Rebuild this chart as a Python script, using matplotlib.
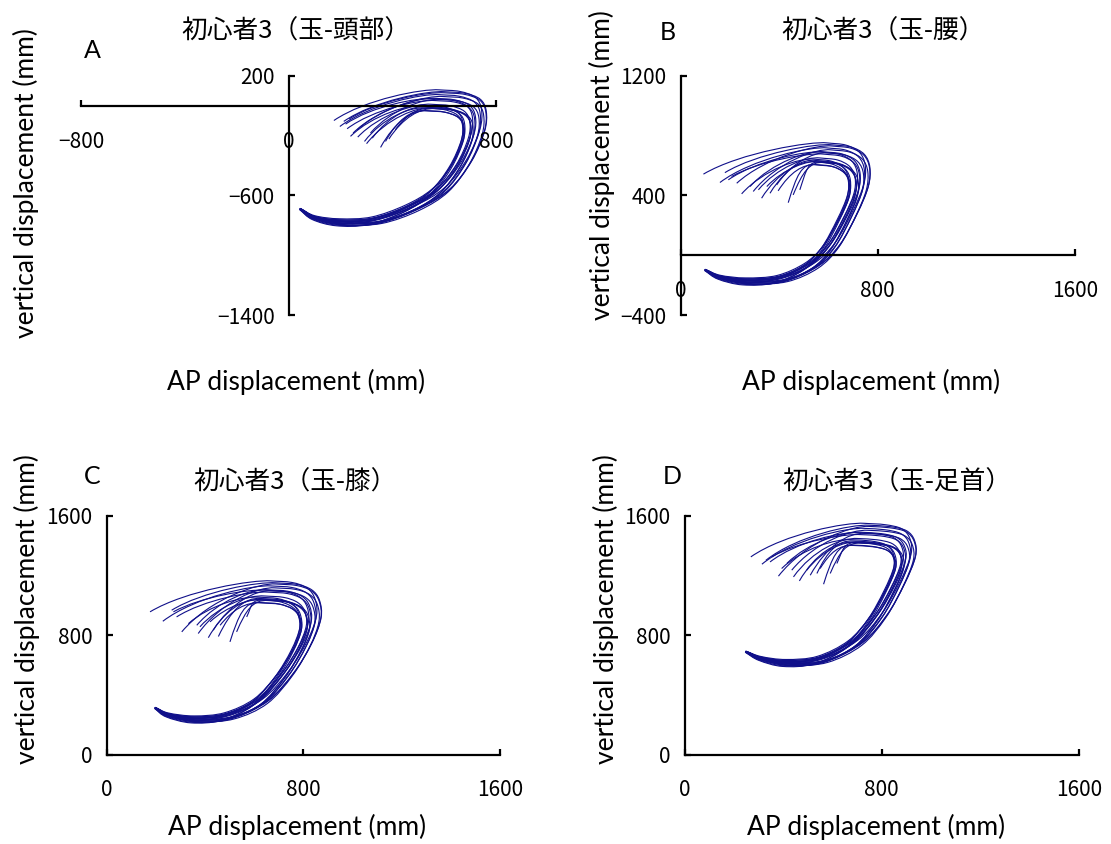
import numpy as np
import matplotlib
matplotlib.use("Agg")
import matplotlib.pyplot as plt
from matplotlib.path import Path
from matplotlib.patches import PathPatch

W, H = 1111, 844
NAVY = "#10108a"

TITLES = ["初心者3（玉-頭部）", "初心者3（玉-腰）", "初心者3（玉-膝）", "初心者3（玉-足首）"]
LETTERS = ["A", "B", "C", "D"]
XLABEL = "AP displacement (mm)"
YLABEL = "vertical displacement (mm)"

# axis ranges / ticks per panel
XLIMS = [(-800, 800), (0, 1600), (0, 1600), (0, 1600)]
YLIMS = [(-1400, 200), (-400, 1200), (0, 1600), (0, 1600)]
XTICKS = [[-800, 0, 800], [0, 800, 1600], [0, 800, 1600], [0, 800, 1600]]
YTICKS = [[-1400, -600, 200], [-400, 400, 1200], [0, 800, 1600], [0, 800, 1600]]

# mean loop of each panel (start -> bottom -> right -> top), mm
A_LOOP_X = [44, 100, 200, 330, 470, 580, 660, 708, 714, 692, 635, 560]
A_LOOP_Y = [-690, -752, -785, -775, -690, -570, -390, -200, -75, 0, 38, 48]
B_LOOP_X = [99, 160, 268, 403, 525, 606, 674, 716, 722, 700, 648, 575]
B_LOOP_Y = [-98, -150, -180, -165, -76, 57, 260, 428, 548, 630, 676, 690]
C_LOOP_X = [197, 250, 360, 490, 620, 720, 790, 826, 820, 790, 732, 650]
C_LOOP_Y = [312, 262, 230, 250, 350, 530, 720, 880, 990, 1055, 1090, 1100]
D_LOOP_X = [248, 310, 415, 550, 685, 780, 848, 890, 886, 855, 792, 710]
D_LOOP_Y = [688, 640, 608, 628, 740, 918, 1118, 1290, 1390, 1450, 1476, 1485]

# where each of the 18 trials stops (upper-left fan)
A_END_X = [175, 198, 213, 220, 226, 233, 239, 249, 265, 267, 293, 301, 316, 323, 355, 374, 387, 412]
A_END_Y = [-98, -138, -104, -122, -153, -89, -204, -182, -160, -209, -238, -253, -182, -216, -278, -238, -222, -160]
B_END_X = [93, 160, 180, 194, 207, 228, 248, 282, 295, 316, 329, 350, 363, 390, 396, 437, 457, 484]
B_END_Y = [543, 487, 553, 505, 527, 482, 411, 460, 427, 438, 382, 460, 415, 471, 431, 352, 404, 438]
C_END_X = [177, 229, 265, 272, 285, 306, 333, 367, 373, 380, 414, 421, 434, 455, 462, 502, 529, 570]
C_END_Y = [955, 892, 966, 955, 921, 821, 876, 865, 810, 855, 782, 888, 832, 790, 865, 754, 821, 921]
D_END_X = [269, 314, 330, 347, 354, 381, 394, 415, 435, 442, 466, 496, 510, 537, 550, 564, 591, 618]
D_END_Y = [1323, 1274, 1300, 1289, 1323, 1194, 1245, 1279, 1234, 1189, 1162, 1234, 1200, 1212, 1245, 1140, 1212, 1279]

# per-trial deviation from the mean loop
TRIAL_SCALE = [1.06, 1.03, 1.05, 1.0, 0.99, 1.04, 0.96, 1.01, 1.02, 0.97, 0.95, 0.96, 1.0, 0.955, 0.93, 0.94, 0.95, 0.96]
TRIAL_DX = [-10, 5, 15, -5, 10, 20, -15, 0, 25, 5, -10, 15, 20, -5, 10, 0, 30, 15]
TRIAL_DY = [20, -10, 5, 25, -15, 10, -5, 25, -10, 15, -25, 10, 0, -20, 25, 10, -10, 5]
TRIAL_TOP = [15, 5, 10, 0, -5, 10, -15, -5, 0, -15, -25, -30, -5, -20, -30, -35, -30, -35]
DX_WEIGHT = [0.15, 0.5, 0.8, 1, 1, 1, 1, 1, 1, 1, 1, 1]
DY_WEIGHT = [0.15, 0.5, 0.9, 1, 1, 0.8, 0.5, 0.3, 0, 0, 0, 0]
TOP_WEIGHT = [0, 0, 0, 0, 0, 0, 0.2, 0.5, 0.8, 1, 1, 1]

LOOPS = [(A_LOOP_X, A_LOOP_Y), (B_LOOP_X, B_LOOP_Y), (C_LOOP_X, C_LOOP_Y), (D_LOOP_X, D_LOOP_Y)]
ENDS = [(A_END_X, A_END_Y), (B_END_X, B_END_Y), (C_END_X, C_END_Y), (D_END_X, D_END_Y)]

# panel boxes in image pixels: x-left, x-right, y-top, y-bottom
BOXES = [(81, 496, 76, 315), (680.5, 1075, 76, 315), (106.5, 500, 515.5, 754.5), (684.5, 1079, 515.5, 754.5)]
TITLE_POS = [(296, 32), (883, 32), (295, 483), (897, 483)]
LETTER_POS = [(92, 51), (668, 32), (92, 477), (672, 477)]
YLABEL_POS = [(26, 183), (602, 165), (27, 609), (606, 609)]
XLABEL_POS = [(296, 382), (871, 382), (297, 827), (876, 827)]

plt.rcParams["font.family"] = ["Noto Sans CJK JP", "DejaVu Sans"]


def trace_path(lx, ly, ex, ey):
    pts = np.column_stack([lx, ly]).astype(float)
    n = len(pts)
    tang = np.zeros_like(pts)
    tang[0] = pts[1] - pts[0]
    tang[-1] = pts[-1] - pts[-2]
    tang[1:-1] = (pts[2:] - pts[:-2]) / 2
    verts = [pts[0]]
    codes = [Path.MOVETO]
    for i in range(n - 1):
        verts += [pts[i] + tang[i] / 3, pts[i + 1] - tang[i + 1] / 3, pts[i + 1]]
        codes += [Path.CURVE4] * 3
    end = np.array([ex, ey], dtype=float)
    last = pts[-1]
    c1 = last + tang[-1] * 0.8
    c2 = end + (last - end) * np.array([0.3, 0.7])
    verts += [c1, c2, end]
    codes += [Path.CURVE4] * 3
    return Path(verts, codes)


fig = plt.figure(figsize=(W / 100, H / 100), dpi=100)

for k in range(4):
    x0, x1, yt, yb = BOXES[k]
    ax = fig.add_axes([x0 / W, 1 - yb / H, (x1 - x0) / W, (yb - yt) / H])
    ax.set_xlim(XLIMS[k])
    ax.set_ylim(YLIMS[k])
    ax.patch.set_visible(False)
    for s in ("top", "right"):
        ax.spines[s].set_visible(False)
    ax.spines["left"].set_position(("data", 0))
    ax.spines["bottom"].set_position(("data", 0))
    for s in ("left", "bottom"):
        ax.spines[s].set_linewidth(1.6)
    ax.set_xticks(XTICKS[k])
    ax.set_yticks(YTICKS[k])
    ax.tick_params(direction="in", length=4, width=1.6, labelsize=15)
    ax.tick_params(axis="x", pad=18)
    ax.tick_params(axis="y", pad=10)

    lx, ly = LOOPS[k]
    ex, ey = ENDS[k]
    for i in range(len(ex)):
        s = TRIAL_SCALE[i]
        tx = lx[0] + s * (np.array(lx) - lx[0]) + TRIAL_DX[i] * np.array(DX_WEIGHT)
        ty = (ly[0] + s * (np.array(ly) - ly[0]) + TRIAL_DY[i] * np.array(DY_WEIGHT)
              + TRIAL_TOP[i] * np.array(TOP_WEIGHT))
        path = trace_path(tx, ty, ex[i], ey[i])
        ax.add_patch(PathPatch(path, fill=False, edgecolor=NAVY, lw=0.8))

    fig.text(TITLE_POS[k][0] / W, 1 - TITLE_POS[k][1] / H, TITLES[k],
             ha="center", va="center", fontsize=18.5, family="Noto Sans CJK JP")
    fig.text(LETTER_POS[k][0] / W, 1 - LETTER_POS[k][1] / H, LETTERS[k],
             ha="center", va="center", fontsize=18, family="Lato")
    fig.text(XLABEL_POS[k][0] / W, 1 - XLABEL_POS[k][1] / H, XLABEL,
             ha="center", va="center", fontsize=19, family="Lato")
    fig.text(YLABEL_POS[k][0] / W, 1 - YLABEL_POS[k][1] / H, YLABEL,
             ha="center", va="center", rotation=90, fontsize=19, family="Lato")

fig.savefig("out.png", dpi=100)
